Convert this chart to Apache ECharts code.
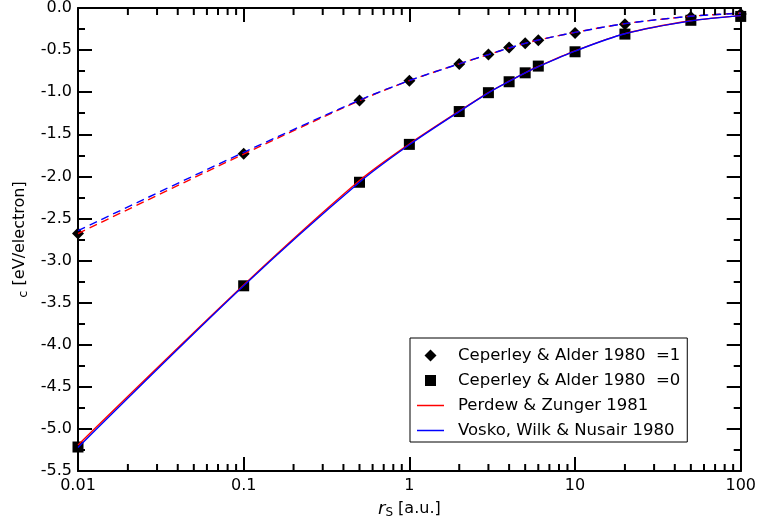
<!DOCTYPE html>
<html>
<head>
<meta charset="utf-8">
<script src="https://cdn.jsdelivr.net/npm/echarts@6/dist/echarts.min.js"></script>
<style>html,body{margin:0;padding:0;background:#fff;}#chart{width:759px;height:526px;}</style>
</head>
<body>
<div id="chart"></div>
<script>
// Ceperley & Alder QMC points (eV/electron)
const rsPoints = [0.01, 0.1, 0.5, 1, 2, 3, 4, 5, 6, 10, 20, 50, 100];
const caPolarized = [-2.68, -1.73, -1.10, -0.864, -0.666, -0.553, -0.47, -0.418, -0.383, -0.296, -0.193, -0.106, -0.07];
const caUnpolarized = [-5.215, -3.30, -2.07, -1.62, -1.23, -1.006, -0.876, -0.77, -0.69, -0.52, -0.31, -0.146, -0.10];

// Parametrisation curves
const curveRs = [0.01, 0.1, 0.5, 1, 2, 3, 4, 5, 6, 10, 20, 50, 100];
const pzPolarized = [-2.68, -1.735, -1.10, -0.863, -0.663, -0.553, -0.475, -0.42, -0.38, -0.29, -0.186, -0.098, -0.06];
const vwnPolarized = [-2.645, -1.715, -1.095, -0.862, -0.663, -0.553, -0.475, -0.42, -0.38, -0.29, -0.186, -0.098, -0.062];
const pzUnpolarized = [-5.19, -3.29, -2.05, -1.615, -1.225, -1.005, -0.87, -0.77, -0.695, -0.51, -0.305, -0.152, -0.09];
const vwnUnpolarized = [-5.22, -3.30, -2.07, -1.625, -1.23, -1.008, -0.872, -0.772, -0.697, -0.512, -0.306, -0.153, -0.09];

// axis ticks
const xMinorTicks = [0.02,0.03,0.04,0.05,0.06,0.07,0.08,0.09,0.2,0.3,0.4,0.5,0.6,0.7,0.8,0.9,2,3,4,5,6,7,8,9,20,30,40,50,60,70,80,90];
const yMin = -5.5, yMax = 0, yStep = 0.5;
const xMin = 0.01, xMax = 100;

const legendNames = ['Ceperley & Alder 1980  =1', 'Ceperley & Alder 1980  =0', 'Perdew & Zunger 1981', 'Vosko, Wilk & Nusair 1980'];

const FONT = 'DejaVu Sans';
const pair = (xs, ys) => xs.map((x, i) => [x, ys[i]]);

const chart = echarts.init(document.getElementById('chart'), null, {renderer: 'canvas'});

const axisCommon = {
  axisLine: {show: true, onZero: false, lineStyle: {color: '#000', width: 2}},
  axisTick: {show: true, inside: true, length: 14, lineStyle: {color: '#000', width: 2}},
  splitLine: {show: false}
};

const lineIcon = 'path://M0,0L27,0L27,1.5L0,1.5Z';

chart.setOption({
  animation: false,
  backgroundColor: '#fff',
  textStyle: {fontFamily: FONT},
  grid: {left: 78, right: 17, top: 6, bottom: 55, containLabel: false},
  xAxis: [
    Object.assign({}, axisCommon, {
      type: 'log', logBase: 10, min: xMin, max: xMax, position: 'bottom',
      axisLabel: {color: '#000', fontSize: 16, fontFamily: FONT, margin: 7, showMinLabel: true, showMaxLabel: true,
        formatter: v => String(+(+v).toPrecision(3))},
      name: '{r|r}{s|S} [a.u.]', nameLocation: 'middle', nameGap: 28,
      nameTextStyle: {color: '#000', fontSize: 16, fontFamily: FONT, lineHeight: 20,
        rich: {r: {fontSize: 18, fontStyle: 'italic', fontFamily: FONT, lineHeight: 20},
               s: {fontSize: 12, fontFamily: FONT, lineHeight: 12, verticalAlign: 'bottom'}}}
    }),
    Object.assign({}, axisCommon, {
      type: 'log', logBase: 10, min: xMin, max: xMax, position: 'top',
      axisLabel: {show: false}
    })
  ],
  yAxis: [
    Object.assign({}, axisCommon, {
      type: 'value', min: yMin, max: yMax, interval: yStep, position: 'left',
      minorTick: {show: true, splitNumber: 2, length: 7, lineStyle: {color: '#000', width: 2}},
      axisLabel: {color: '#000', fontSize: 16, fontFamily: FONT, margin: 6, formatter: v => (+v).toFixed(1)},
      name: '{s|c} [eV/electron]', nameLocation: 'middle', nameGap: 46, nameRotate: 90,
      nameTextStyle: {color: '#000', fontSize: 16, fontFamily: FONT, lineHeight: 20,
        rich: {s: {fontSize: 13, fontFamily: FONT, lineHeight: 12, verticalAlign: 'bottom'}}}
    }),
    Object.assign({}, axisCommon, {
      type: 'value', min: yMin, max: yMax, interval: yStep, position: 'right',
      minorTick: {show: true, splitNumber: 2, length: 7, lineStyle: {color: '#000', width: 2}},
      axisLabel: {show: false}
    })
  ],
  legend: {
    show: true, orient: 'vertical', left: 410, top: 338,
    padding: [9, 7, 3, 7], itemGap: 8, itemWidth: 27, itemHeight: 12,
    borderColor: '#000', borderWidth: 1, backgroundColor: '#fff',
    textStyle: {color: '#000', fontSize: 16.5, fontFamily: FONT, padding: [0, 0, 0, 9]},
    selectedMode: false,
    data: [
      {name: legendNames[0], icon: 'path://M0,0M12,12M6,0L12,6L6,12L0,6Z', itemStyle: {color: '#000', opacity: 1}},
      {name: legendNames[1], icon: 'path://M0,0M12,12M0.5,0.5L11.5,0.5L11.5,11.5L0.5,11.5Z', itemStyle: {color: '#000', opacity: 1}},
      {name: legendNames[2], icon: lineIcon, itemStyle: {color: '#ff0000'}},
      {name: legendNames[3], icon: lineIcon, itemStyle: {color: '#0000ff'}}
    ]
  },
  series: [
    {name: legendNames[0], type: 'scatter', data: pair(rsPoints, caPolarized), symbol: 'diamond', symbolSize: 12,
      itemStyle: {color: '#000', opacity: 1}, z: 2},
    {name: legendNames[1], type: 'scatter', data: pair(rsPoints, caUnpolarized), symbol: 'rect', symbolSize: 11,
      itemStyle: {color: '#000', opacity: 1}, z: 2},
    {name: 'PZ polarized', type: 'line', data: pair(curveRs, pzPolarized), showSymbol: false, symbol: 'none',
      smooth: 0.3, lineStyle: {color: '#ff0000', width: 1.4, type: [8, 5]}, itemStyle: {color: '#ff0000'}, z: 3},
    {name: legendNames[2], type: 'line', data: pair(curveRs, pzUnpolarized), showSymbol: false, symbol: 'none',
      smooth: 0.3, lineStyle: {color: '#ff0000', width: 1.4}, itemStyle: {color: '#ff0000'}, z: 3},
    {name: 'VWN polarized', type: 'line', data: pair(curveRs, vwnPolarized), showSymbol: false, symbol: 'none',
      smooth: 0.3, lineStyle: {color: '#0000ff', width: 1.4, type: [8, 5]}, itemStyle: {color: '#0000ff'}, z: 4},
    {name: legendNames[3], type: 'line', data: pair(curveRs, vwnUnpolarized), showSymbol: false, symbol: 'none',
      smooth: 0.3, lineStyle: {color: '#0000ff', width: 1.4}, itemStyle: {color: '#0000ff'}, z: 4},
    {name: 'minor x ticks', type: 'custom', silent: true, clip: false, z: 5,
      data: xMinorTicks.map(v => [v, yMin]),
      renderItem: function (params, api) {
        const v = api.value(0);
        const pb = api.coord([v, yMin]);
        const pt = api.coord([v, yMax]);
        const st = {stroke: '#000', lineWidth: 2};
        return {type: 'group', children: [
          {type: 'line', shape: {x1: pb[0], y1: pb[1], x2: pb[0], y2: pb[1] - 7}, style: st},
          {type: 'line', shape: {x1: pt[0], y1: pt[1], x2: pt[0], y2: pt[1] + 7}, style: st}
        ]};
      }
    }
  ]
});
</script>
</body>
</html>
